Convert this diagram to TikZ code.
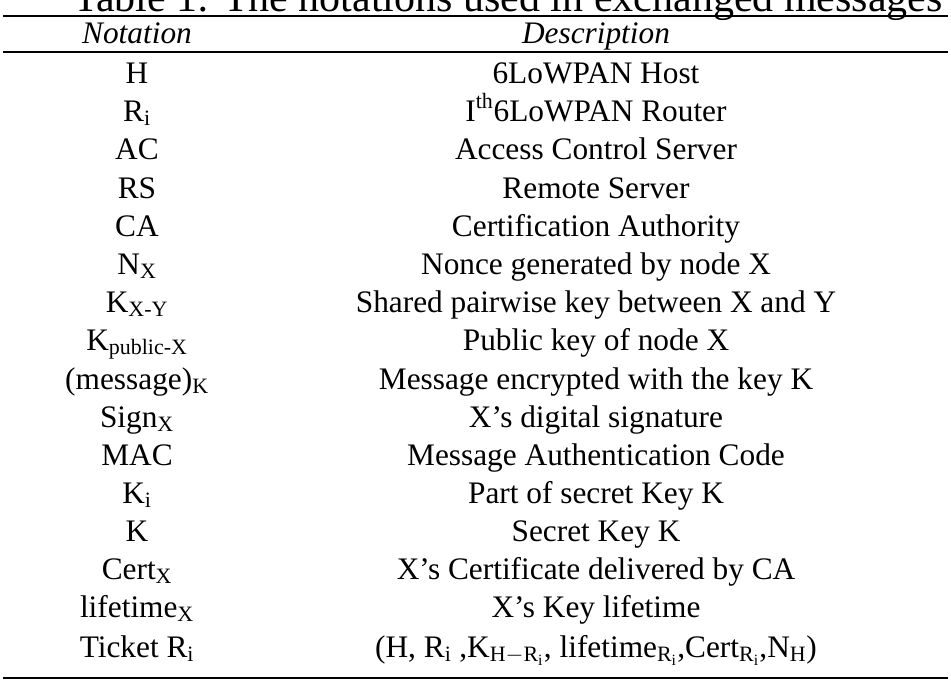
\documentclass[tikz,border=0pt]{standalone}
\usepackage{fontspec}
\setmainfont{Liberation Serif}
\usetikzlibrary{positioning}
\tikzset{cell/.style={inner sep=0pt, anchor=base, font=\fontsize{23.5}{27}\selectfont},
  rule/.style={line width=#1}}
\begin{document}
\begin{tikzpicture}[x=0.75pt, y=-0.75pt]
\useasboundingbox (0,0) rectangle (951,686);
\clip (0,0) rectangle (951,686);
% title, cut off at the top
\node (title) [cell, font=\fontsize{31.5}{34}\selectfont] at (508,11) {Table 1: The notations used in exchanged messages};
\coordinate (tl) at (3,16);    \coordinate (tr) at (948,16);
\coordinate (hl) at (3,52);    \coordinate (hr) at (948,52);
\coordinate (bl) at (3,678);   \coordinate (br) at (948,678);
\draw[rule=1.6pt] (tl) -- (tr);
\draw[rule=1pt] (hl) -- (hr);
\draw[rule=2pt] (bl) -- (br);
% header
\node (h1) [cell] at (137,43) {\itshape Notation};
\node (h2) [cell] at (596,43) {\itshape Description};
% rows
\node (a1)  [cell] at (137,83)  {H};
\node (b1)  [cell] at (596,83)  {6LoWPAN Host};
\node (a2)  [cell] at (137,121) {R\textsubscript{i}};
\node (b2)  [cell] at (596,121) {I\textsuperscript{th}6LoWPAN Router};
\node (a3)  [cell] at (137,159) {AC};
\node (b3)  [cell] at (596,159) {Access Control Server};
\node (a4)  [cell] at (137,198) {RS};
\node (b4)  [cell] at (596,198) {Remote Server};
\node (a5)  [cell] at (137,236) {CA};
\node (b5)  [cell] at (596,236) {Certification Authority};
\node (a6)  [cell] at (137,274) {N\textsubscript{X}};
\node (b6)  [cell] at (596,274) {Nonce generated by node X};
\node (a7)  [cell] at (137,312) {K\textsubscript{X-Y}};
\node (b7)  [cell] at (596,312) {Shared pairwise key between X and Y};
\node (a8)  [cell] at (137,350) {K\textsubscript{public-X}};
\node (b8)  [cell] at (596,350) {Public key of node X};
\node (a9)  [cell] at (137,389) {(message)\textsubscript{K}};
\node (b9)  [cell] at (596,389) {Message encrypted with the key K};
\node (a10) [cell] at (137,427) {Sign\textsubscript{X}};
\node (b10) [cell] at (596,427) {X’s digital signature};
\node (a11) [cell] at (137,465) {MAC};
\node (b11) [cell] at (596,465) {Message Authentication Code};
\node (a12) [cell] at (137,503) {K\textsubscript{i}};
\node (b12) [cell] at (596,503) {Part of secret Key K};
\node (a13) [cell] at (137,541) {K};
\node (b13) [cell] at (596,541) {Secret Key K};
\node (a14) [cell] at (137,579) {Cert\textsubscript{X}};
\node (b14) [cell] at (596,579) {X’s Certificate delivered by CA};
\node (a15) [cell] at (137,617) {lifetime\textsubscript{X}};
\node (b15) [cell] at (596,617) {X’s Key lifetime};
\node (a16) [cell] at (137,657) {Ticket R\textsubscript{i}};
\node (b16) [cell] at (596,657) {(H, R\textsubscript{i} ,K$_{\mathrm{H-R_i}}$, lifetime$_{\mathrm{R_i}}$,Cert$_{\mathrm{R_i}}$,N$_{\mathrm{H}}$)};
\end{tikzpicture}
\end{document}
